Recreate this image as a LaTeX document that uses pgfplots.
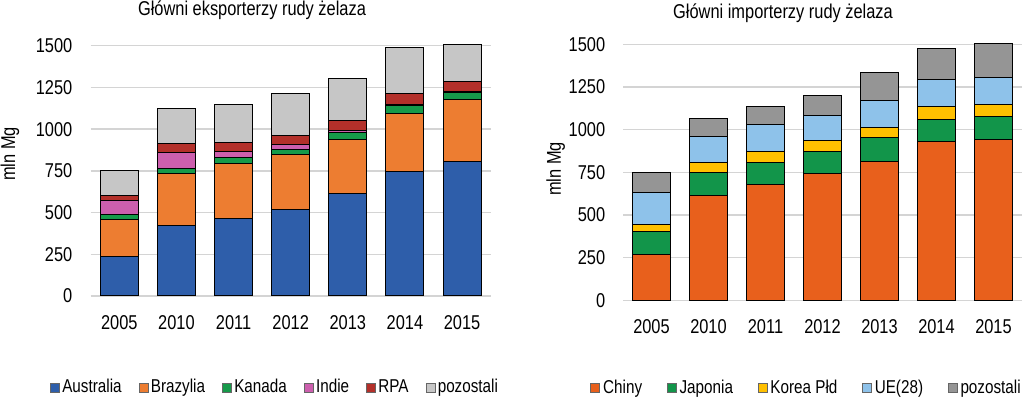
\documentclass[border=0pt]{standalone}
\usepackage{fontspec}
\setmainfont{Liberation Sans}[FakeStretch=0.82]
\usepackage{pgfplots}
\usepackage{pgfplotstable}
\pgfplotsset{compat=1.18}

\definecolor{cAus}{HTML}{2E5EAA}
\definecolor{cBra}{HTML}{ED7D31}
\definecolor{cKan}{HTML}{169A4A}
\definecolor{cInd}{HTML}{CC5FAE}
\definecolor{cRPA}{HTML}{B3302A}
\definecolor{cPozE}{HTML}{C6C6C6}
\definecolor{cChi}{HTML}{E8601C}
\definecolor{cJap}{HTML}{12954A}
\definecolor{cKor}{HTML}{FFC000}
\definecolor{cUE}{HTML}{8EC2EA}
\definecolor{cPozI}{HTML}{959595}

\pgfplotstableread{
x Australia Brazylia Kanada Indie RPA pozostali
0 234 224 28 88 30 146
1 424 310 32 94 54 208
2 462 334 32 36 54 230
3 518 328 34 30 54 250
4 612 328 40 12 62 250
5 748 344 48 10 64 274
6 808 372 40 6 60 224
}\exporters

\pgfplotstableread{
x Chiny Japonia Korea UE pozostali
0 271 133 43 183 120
1 613 135 57 154 108
2 680 129 62 158 106
3 742 127 65 150 117
4 816 135 63 158 164
5 928 133 76 158 183
6 943 135 72 154 200
}\importers

\pgfplotsset{
  mybar/.style={
    ybar stacked, bar width=19pt, scale only axis,
    xmin=-0.5, xmax=6.5, ymin=0, ymax=1500,
    xtick={0,...,6}, xticklabels={2005,2010,2011,2012,2013,2014,2015},
    ytick={0,250,500,750,1000,1250,1500},
    axis line style={draw=none}, major tick length=0pt,
    ymajorgrids, grid style={draw=black!17, line width=0.75pt},
    clip=false,
    /pgf/number format/assume math mode=true,
    /pgf/number format/1000 sep={},
    tick label style={font=\fontsize{10}{12}\selectfont, inner sep=0pt},
    every axis plot/.append style={draw=black, line width=0.5pt},
    legend image code/.code={\draw[#1, draw=black!60, line width=0.4pt] (0pt,-2.25pt) rectangle (4.5pt,2.25pt);},
  }
}

\begin{document}
\begin{tikzpicture}[font=\fontsize{10}{12}\selectfont]
\useasboundingbox (0,0) rectangle (511.5pt,200.5pt);

\begin{axis}[mybar, at={(45.35pt,52.5pt)}, anchor=south west,
  width=200pt, height=125.15pt,
  yticklabel style={xshift=-9pt}, xticklabel style={yshift=-9.5pt},
  legend style={draw=none, fill=none, at={(rel axis cs:0,0)}, anchor=west,
    xshift=-20.5pt, yshift=-45.75pt, inner sep=0pt,
    legend columns=-1, nodes={inner sep=0pt, font=\fontsize{9.3}{11}\selectfont},
    /tikz/every odd column/.append style={column sep=1.2pt},
    /tikz/every even column/.append style={column sep=8.5pt}},
]
\addplot[fill=cAus] table[x=x,y=Australia] {\exporters};
\addplot[fill=cBra] table[x=x,y=Brazylia] {\exporters};
\addplot[fill=cKan] table[x=x,y=Kanada] {\exporters};
\addplot[fill=cInd] table[x=x,y=Indie] {\exporters};
\addplot[fill=cRPA] table[x=x,y=RPA] {\exporters};
\addplot[fill=cPozE] table[x=x,y=pozostali] {\exporters};
\legend{Australia,Brazylia,Kanada,Indie,RPA,pozostali}
\end{axis}

\begin{axis}[mybar, at={(311.5pt,50.35pt)}, anchor=south west,
  width=199.5pt, height=128pt,
  yticklabel style={xshift=-8.7pt}, xticklabel style={yshift=-9.3pt},
  legend style={draw=none, fill=none, at={(rel axis cs:0,0)}, anchor=west,
    xshift=-16.5pt, yshift=-43.85pt, inner sep=0pt,
    legend columns=-1, nodes={inner sep=0pt, font=\fontsize{9.3}{11}\selectfont},
    /tikz/every odd column/.append style={column sep=1.5pt},
    /tikz/every even column/.append style={column sep=12.3pt}},
]
\addplot[fill=cChi] table[x=x,y=Chiny] {\importers};
\addplot[fill=cJap] table[x=x,y=Japonia] {\importers};
\addplot[fill=cKor] table[x=x,y=Korea] {\importers};
\addplot[fill=cUE] table[x=x,y=UE] {\importers};
\addplot[fill=cPozI] table[x=x,y=pozostali] {\importers};
\legend{Chiny,Japonia,Korea Płd,UE(28),pozostali}
\end{axis}

\node[anchor=base] at (126pt,192.5pt) {Główni eksporterzy rudy żelaza};
\node[anchor=base] at (391.5pt,191.3pt) {Główni importerzy rudy żelaza};
\node[rotate=90] at (5pt,123.5pt) {mln Mg};
\node[rotate=90] at (277.9pt,116pt) {mln Mg};
\end{tikzpicture}
\end{document}
